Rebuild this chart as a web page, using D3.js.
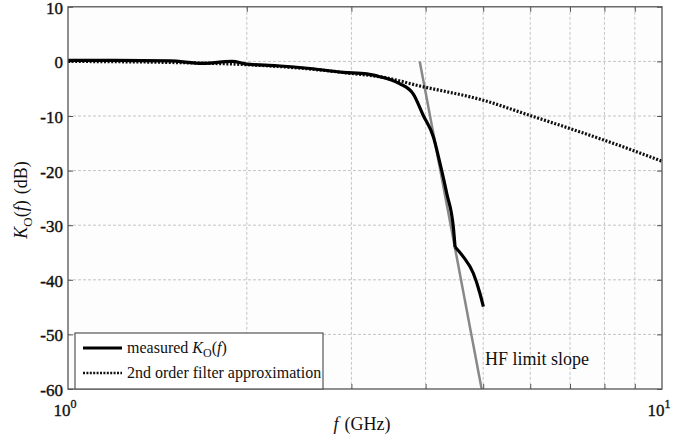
<!DOCTYPE html>
<html><head><meta charset="utf-8">
<script src="https://cdn.jsdelivr.net/npm/d3@7"></script>
<style>
body{margin:0;background:#fff;}
svg text{font-family:"Liberation Serif","Times New Roman",serif;fill:#111;}
</style></head>
<body><svg id="c" width="690" height="436"></svg>
<script>
// data
const measuredF  = [1.0, 1.2, 1.485, 1.687, 1.888, 2.0, 2.249, 2.556, 2.904, 3.186, 3.35, 3.48, 3.622, 3.814, 3.964, 4.121, 4.230, 4.342, 4.455, 4.484, 4.630, 4.812, 4.938, 5.003];
const measuredDb = [0.2, 0.2, 0.1, -0.35, 0.0, -0.5, -0.8, -1.3, -2.0, -2.3, -2.8, -3.3, -4.1, -6.0, -9.9, -13.8, -18.7, -24.2, -30.5, -34.0, -35.8, -38.8, -42.5, -44.9];
const measuredKinkF = 4.484;
const filterF  = [1.0, 1.5, 2.0, 2.5, 3.0, 3.39, 3.91, 4.996, 5.995, 7.0, 7.98, 8.94, 10];
const filterDb = [0, -0.2, -0.6, -1.3, -2.2, -2.9, -4.5, -7.1, -9.9, -12.3, -14.4, -16.3, -18.3];
const slopeF  = [3.91, 4.97];
const slopeDb = [0, -60];
const yTicks = [10, 0, -10, -20, -30, -40, -50, -60];
const xMinor = [2, 3, 4, 5, 6, 7, 8, 9];
const legendLabels = ["measured", "2nd order filter approximation"];

const svg = d3.select("#c");
const L = 68, R = 662, T = 6.8, B = 389;
const x = d3.scaleLog().domain([1, 10]).range([L, R]);
const y = d3.scaleLinear().domain([-60, 10]).range([B, T]);

svg.append("rect").attr("x", L).attr("y", T).attr("width", R - L).attr("height", B - T).attr("fill", "#fdfdfd");

// grid
const g = svg.append("g");
g.selectAll(".hg").data(yTicks.filter(d => d > -60 && d < 10)).enter().append("line")
  .attr("x1", L).attr("x2", R).attr("y1", d => y(d)).attr("y2", d => y(d))
  .attr("stroke", "#c4c4c4").attr("stroke-width", 1).attr("stroke-dasharray", "3,2");
g.selectAll(".vg").data(xMinor).enter().append("line")
  .attr("y1", T).attr("y2", B).attr("x1", d => x(d)).attr("x2", d => x(d))
  .attr("stroke", "#c4c4c4").attr("stroke-width", 1).attr("stroke-dasharray", "3,2");

// axes with inner ticks
const axL = d3.axisLeft(y).tickValues(yTicks).tickSize(-5).tickFormat(d => String(d));
const axR = d3.axisRight(y).tickValues(yTicks).tickSize(-5).tickFormat("");
const axB = d3.axisBottom(x).tickValues(xMinor).tickSize(-5).tickFormat("");
const axT = d3.axisTop(x).tickValues(xMinor).tickSize(-5).tickFormat("");
function style(sel){ sel.select(".domain").remove(); sel.selectAll("line").attr("stroke","#555"); }
svg.append("g").attr("transform", `translate(${L},0)`).call(axL).call(style)
  .selectAll("text").attr("font-size", 17).attr("x", -5).attr("dy", "0.38em")
  .attr("font-family", "Liberation Serif").attr("fill","#111")
  .attr("stroke", "#111").attr("stroke-width", 0.4);
svg.append("g").attr("transform", `translate(${R},0)`).call(axR).call(style);
svg.append("g").attr("transform", `translate(0,${B})`).call(axB).call(style);
svg.append("g").attr("transform", `translate(0,${T})`).call(axT).call(style);

// x decade labels
[1, 10].forEach((v, i) => {
  const t = svg.append("text").attr("x", x(v) - 3).attr("y", 416).attr("font-size", 17)
    .attr("text-anchor", "middle").attr("stroke", "#111").attr("stroke-width", 0.35);
  t.append("tspan").text("10");
  t.append("tspan").attr("font-size", 12).attr("dy", -8).text(String(i));
});

// lines
const clipId = "clp";
svg.append("clipPath").attr("id", clipId).append("rect").attr("x", L).attr("y", T).attr("width", R - L).attr("height", B - T);
const plot = svg.append("g").attr("clip-path", `url(#${clipId})`);

plot.append("path").datum(slopeF.map((f, i) => [f, slopeDb[i]]))
  .attr("d", d3.line().x(d => x(d[0])).y(d => y(d[1])))
  .attr("fill", "none").attr("stroke", "#888").attr("stroke-width", 2.5);
plot.append("path").datum(filterF.map((f, i) => [f, filterDb[i]]))
  .attr("d", d3.line().x(d => x(d[0])).y(d => y(d[1])).curve(d3.curveMonotoneX))
  .attr("fill", "none").attr("stroke", "#111")
  .attr("stroke-width", 3.2).attr("stroke-dasharray", "2,1.6");
const measured = measuredF.map((f, i) => [f, measuredDb[i]]);
const segs = [measured.filter(d => d[0] <= measuredKinkF), measured.filter(d => d[0] >= measuredKinkF)];
plot.selectAll(".meas").data(segs).enter().append("path")
  .attr("d", d3.line().x(d => x(d[0])).y(d => y(d[1])).curve(d3.curveMonotoneX))
  .attr("fill", "none").attr("stroke", "#000")
  .attr("stroke-width", 3.2).attr("stroke-linejoin", "round").attr("stroke-linecap", "butt");

// frame
svg.append("rect").attr("x", L).attr("y", T).attr("width", R - L).attr("height", B - T)
  .attr("fill", "none").attr("stroke", "#555").attr("stroke-width", 1.3);

// annotation
svg.append("text").attr("x", 485).attr("y", 365).attr("font-size", 18).text("HF limit slope");

// legend
const lg = svg.append("g");
lg.append("rect").attr("x", 75).attr("y", 333).attr("width", 248).attr("height", 56)
  .attr("fill", "#fff").attr("stroke", "#555").attr("stroke-width", 1.2);
lg.append("line").attr("x1", 83).attr("x2", 122).attr("y1", 348).attr("y2", 348).attr("stroke", "#000").attr("stroke-width", 3);
lg.append("line").attr("x1", 83).attr("x2", 122).attr("y1", 373).attr("y2", 373).attr("stroke", "#111").attr("stroke-width", 2.6).attr("stroke-dasharray", "2,1.4");
const t1 = lg.append("text").attr("x", 127).attr("y", 353).attr("font-size", 16);
t1.append("tspan").text(legendLabels[0] + " ");
t1.append("tspan").attr("font-style", "italic").text("K");
t1.append("tspan").attr("font-size", 12).attr("dy", 4).text("O");
t1.append("tspan").attr("dy", -4).text("(");
t1.append("tspan").attr("font-style", "italic").text("f");
t1.append("tspan").text(")");
lg.append("text").attr("x", 127).attr("y", 378).attr("font-size", 16).text(legendLabels[1]);

// axis titles
const xt = svg.append("text").attr("x", 362).attr("y", 430).attr("font-size", 18).attr("text-anchor", "middle");
xt.append("tspan").attr("font-style", "italic").text("f");
xt.append("tspan").attr("dx", 6).text("(GHz)");

const yt = svg.append("text").attr("transform", "translate(27,200) rotate(-90)").attr("font-size", 18).attr("text-anchor", "middle");
yt.append("tspan").attr("font-style", "italic").text("K");
yt.append("tspan").attr("font-size", 13).attr("dy", 5).text("O");
yt.append("tspan").attr("dy", -5).text("(");
yt.append("tspan").attr("font-style", "italic").text("f");
yt.append("tspan").text(")");
yt.append("tspan").attr("dx", 6).text("(dB)");
</script></body></html>
